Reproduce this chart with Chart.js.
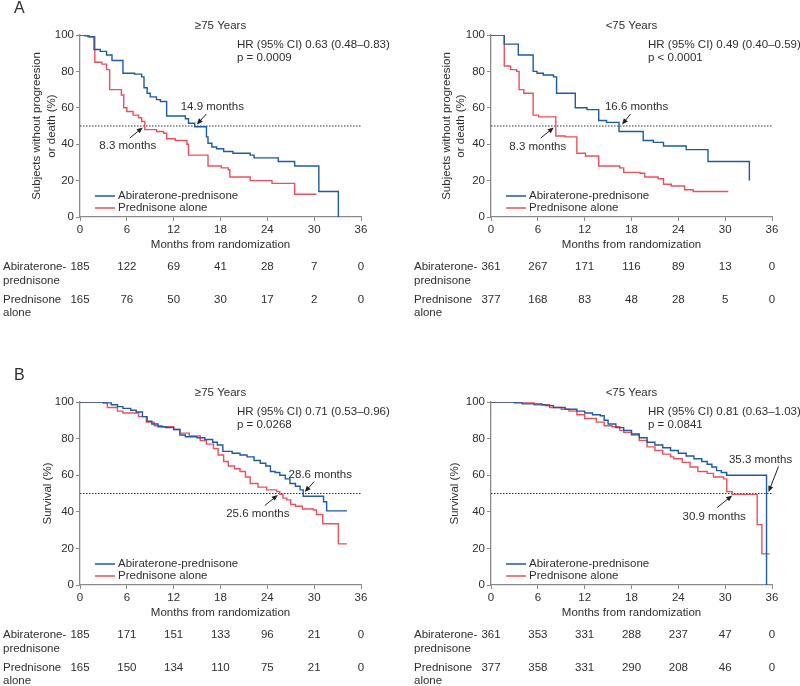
<!DOCTYPE html>
<html lang="en">
<head>
<meta charset="UTF-8">
<title>PFS and OS by age group</title>
<script src="https://cdn.jsdelivr.net/npm/chart.js"></script>
<style>
  body { margin: 0; background: #fff; }
  #wrap { position: relative; width: 800px; height: 686px; }
  canvas { position: absolute; }
</style>
</head>
<body>
<div id="wrap">
  <canvas id="pfsOld" width="400" height="340" style="left:0;top:0"></canvas>
  <canvas id="pfsYoung" width="400" height="340" style="left:400px;top:0"></canvas>
  <canvas id="osOld" width="400" height="346" style="left:0;top:340px"></canvas>
  <canvas id="osYoung" width="400" height="346" style="left:400px;top:340px"></canvas>
</div>
<script>
// months on the x axis / risk table columns
const monthTicks = [0, 6, 12, 18, 24, 30, 36];

// A, >=75 years (progression-free)
const pfsOldAbiT = [0, 0.6, 1.2, 1.8, 2.6, 3.4, 4.1, 5.5, 7.0, 7.9, 8.2, 8.6, 9.0, 9.8, 10.3, 11.1, 13.5, 13.9, 14.7, 16.2, 16.4, 16.9, 17.5, 18.4, 19.6, 21.8, 22.3, 25.4, 27.5, 30.6, 33.1];
const pfsOldAbiS = [100, 99.5, 99, 92, 91, 89, 86, 79, 78.5, 77, 71, 68, 66, 64.5, 63.5, 55.5, 54, 51.5, 49.6, 44, 40.5, 38.5, 37.5, 36, 35, 34, 32.5, 30.5, 28, 14, 0];
const pfsOldPredT = [0, 1.0, 1.9, 2.8, 3.4, 3.8, 5.3, 5.6, 6.0, 6.8, 7.5, 7.9, 8.3, 9.8, 10.7, 11.1, 12.2, 13.7, 13.9, 16.4, 18.1, 19.0, 19.2, 21.8, 24.6, 27.5, 30.3];
const pfsOldPredS = [100, 99, 85, 84, 81, 70, 67, 60, 58, 56, 54.5, 52.5, 48, 47, 46, 43, 42, 40, 34, 28, 27, 26, 22, 20, 18.5, 12.5, 12.5];
const pfsOldRiskAbi = [185, 122, 69, 41, 28, 7, 0];
const pfsOldRiskPred = [165, 76, 50, 30, 17, 2, 0];

// A, <75 years
const pfsYoungAbiT = [0, 1.7, 3.5, 5.4, 5.9, 6.7, 8.0, 8.4, 10.8, 12.3, 13.8, 14.8, 16.4, 19.5, 20.8, 22.1, 25.0, 27.8, 33.1];
const pfsYoungAbiS = [100, 95, 89, 80, 79, 78, 77, 68, 60, 59, 53, 52, 47, 42, 41, 39, 37, 30.5, 20];
const pfsYoungPredT = [0, 1.7, 2.5, 3.3, 3.6, 4.2, 5.4, 6.1, 8.3, 9.5, 11.0, 12.1, 13.8, 16.5, 17.0, 19.1, 19.7, 21.4, 22.1, 23.1, 24.8, 25.9, 30.4];
const pfsYoungPredS = [100, 83, 81, 80, 70, 68, 56, 55, 44.5, 44, 35, 33.5, 28, 27, 24.5, 24, 22, 21, 18, 17, 15, 14, 14];
const pfsYoungRiskAbi = [361, 267, 171, 116, 89, 13, 0];
const pfsYoungRiskPred = [377, 168, 83, 48, 28, 5, 0];

// B, >=75 years (survival)
const osOldAbiT = [0, 3.0, 4.0, 4.8, 5.5, 6.5, 7.2, 8.0, 8.6, 9.2, 10.0, 11.0, 12.0, 12.8, 13.5, 15.0, 16.0, 17.0, 17.6, 18.3, 19.5, 20.5, 21.4, 22.3, 23.1, 23.8, 24.4, 25.0, 25.6, 26.3, 26.9, 27.6, 28.2, 28.6, 31.2, 31.6, 34.2];
const osOldAbiS = [100, 99.5, 98.5, 97.5, 96.5, 95.5, 94.5, 92, 89.5, 88, 86.5, 86, 85, 82, 81, 80.5, 79.5, 78, 76.5, 73, 72, 71, 70, 68, 66.5, 65, 62, 61.5, 60, 58, 55.5, 54, 52, 48.5, 45.5, 40.5, 40.5];
const osOldPredT = [0, 3.0, 3.5, 4.8, 5.5, 7.5, 8.5, 9.5, 10.5, 12.0, 12.8, 14.0, 15.4, 16.2, 17.1, 17.7, 18.4, 19.0, 19.8, 20.5, 21.2, 21.8, 22.8, 23.9, 25.2, 25.6, 26.0, 26.5, 27.0, 27.6, 28.5, 29.9, 30.3, 31.1, 33.1, 34.2];
const osOldPredS = [100, 99.5, 97, 95, 94, 92, 89, 87, 86.5, 85, 83, 81.5, 79, 77, 74.5, 71, 67.5, 65, 63.5, 62, 59, 55.5, 53.5, 52, 51, 49.5, 47.5, 46.5, 44, 43, 41.5, 41, 38.5, 33.5, 22.5, 22.5];
const osOldRiskAbi = [185, 171, 151, 133, 96, 21, 0];
const osOldRiskPred = [165, 150, 134, 110, 75, 21, 0];

// B, <75 years
const osYoungAbiT = [0, 3.0, 4.0, 6.5, 7.0, 8.0, 9.5, 11.0, 12.0, 13.0, 14.0, 14.5, 15.0, 16.0, 17.0, 18.0, 19.0, 20.0, 21.0, 22.0, 23.0, 24.0, 25.0, 26.0, 27.0, 27.7, 28.3, 28.9, 29.5, 30.2, 35.3];
const osYoungAbiS = [100, 99.5, 99, 98.5, 98, 97, 96, 95, 94, 93, 92.5, 90, 88, 86, 84.5, 82.5, 80.5, 78, 76.5, 75, 73.5, 72, 70.5, 69, 67.5, 66, 64.5, 62.5, 61.5, 60, 0];
const osYoungPredT = [0, 3.0, 4.0, 5.5, 7.5, 9.0, 10.0, 11.0, 12.0, 13.5, 14.5, 15.5, 16.5, 17.0, 18.0, 19.0, 20.0, 21.0, 22.0, 23.0, 23.4, 24.5, 25.5, 26.5, 27.7, 28.5, 29.8, 30.2, 30.9, 34.1, 34.7, 35.7];
const osYoungPredS = [100, 99.8, 99.5, 98.5, 97, 96, 95, 93, 91, 89, 87, 86.5, 84.5, 83.5, 82, 79, 75.5, 73.5, 71.5, 70, 69, 67, 64.5, 62, 61, 59, 58, 51, 49.5, 33, 17, 17];
const osYoungRiskAbi = [361, 353, 331, 288, 237, 47, 0];
const osYoungRiskPred = [377, 358, 331, 290, 208, 46, 0];

const BLUE = '#1e5aa5';
const RED = '#ef4f5b';
const TEXT = '#2f2f2f';
const AXIS = '#8a8a8a';
const FAMILY = '"Liberation Sans", Arial, Helvetica, sans-serif';

function pts(t, s) {
  return t.map((x, i) => ({ x: x, y: s[i] }));
}

function arrow(ctx, x0, y0, x1, y1) {
  const ang = Math.atan2(y1 - y0, x1 - x0);
  ctx.beginPath();
  ctx.moveTo(x0, y0);
  ctx.lineTo(x1 - 4 * Math.cos(ang), y1 - 4 * Math.sin(ang));
  ctx.stroke();
  ctx.beginPath();
  ctx.moveTo(x1, y1);
  ctx.lineTo(x1 - 6 * Math.cos(ang) + 2.6 * Math.sin(ang), y1 - 6 * Math.sin(ang) - 2.6 * Math.cos(ang));
  ctx.lineTo(x1 - 6 * Math.cos(ang) - 2.6 * Math.sin(ang), y1 - 6 * Math.sin(ang) + 2.6 * Math.cos(ang));
  ctx.closePath();
  ctx.fill();
}

// titles, legend, arrows and the numbers-at-risk table
function drawDeco(chart, p) {
  const ctx = chart.ctx;
  const a = chart.chartArea;
  const xs = chart.scales.x;
  const ys = chart.scales.y;
  ctx.save();
  ctx.fillStyle = TEXT;
  ctx.textBaseline = 'middle';

  if (p.letter) {
    ctx.font = '16px ' + FAMILY;
    ctx.textAlign = 'left';
    ctx.fillText(p.letter, 14, a.top - 26);
  }

  ctx.font = '11.5px ' + FAMILY;
  ctx.textAlign = 'center';
  ctx.fillText(p.group, (a.left + a.right) / 2, a.top - 9);
  ctx.fillText('Months from randomization', (a.left + a.right) / 2, a.bottom + 28);
  ctx.textAlign = 'left';
  ctx.fillText(p.hr, a.left + 157, a.top + 10);
  ctx.fillText(p.pval, a.left + 157, a.top + 23);

  // y axis title
  ctx.save();
  ctx.translate(a.left, (a.top + a.bottom) / 2);
  ctx.rotate(-Math.PI / 2);
  ctx.textAlign = 'center';
  p.yTitle.forEach((line, i) => ctx.fillText(line, 0, p.yTitleX[i]));
  ctx.restore();

  // legend
  [[BLUE, 'Abiraterone-prednisone', -21], [RED, 'Prednisone alone', -9]].forEach(([col, label, dy]) => {
    ctx.strokeStyle = col;
    ctx.lineWidth = 1.5;
    ctx.beginPath();
    ctx.moveTo(a.left + 15, a.bottom + dy);
    ctx.lineTo(a.left + 35, a.bottom + dy);
    ctx.stroke();
    ctx.fillText(label, a.left + 38, a.bottom + dy);
  });

  // median annotations
  ctx.strokeStyle = '#222';
  ctx.fillStyle = '#222';
  ctx.lineWidth = 1;
  p.notes.forEach(n => {
    const tx = xs.getPixelForValue(n.m);
    const ty = ys.getPixelForValue(50);
    arrow(ctx, tx + n.a0[0], ty + n.a0[1], tx + n.a1[0], ty + n.a1[1]);
    ctx.fillStyle = TEXT;
    ctx.textAlign = 'center';
    ctx.fillText(n.m.toFixed(1) + ' months', tx + n.t[0], ty + n.t[1]);
    ctx.fillStyle = '#222';
  });

  // numbers at risk
  ctx.fillStyle = TEXT;
  ctx.textAlign = 'left';
  const lx = a.left - 77;
  [['Abiraterone-', 50], ['prednisone', 64], ['Prednisone', 83], ['alone', 96]].forEach(([t, dy]) => {
    ctx.fillText(t, lx, a.bottom + dy);
  });
  ctx.textAlign = 'center';
  monthTicks.forEach((m, i) => {
    const x = xs.getPixelForValue(m);
    ctx.fillText(String(p.riskAbi[i]), x, a.bottom + 50);
    ctx.fillText(String(p.riskPred[i]), x, a.bottom + 83);
  });
  ctx.restore();
}

function makePanel(id, p) {
  const canvas = document.getElementById(id);
  const W = canvas.width;
  const H = canvas.height;
  const tickFont = { family: FAMILY, size: 11.5 };
  return new Chart(canvas, {
    type: 'line',
    data: {
      datasets: [
        { data: pts(p.abiT, p.abiS), borderColor: BLUE },
        { data: pts(p.predT, p.predS), borderColor: RED },
        { data: [{ x: 0, y: 50 }, { x: 36, y: 50 }], borderColor: '#333', borderWidth: 1, borderDash: [1.5, 1.5], stepped: false }
      ]
    },
    options: {
      responsive: false,
      animation: false,
      events: [],
      layout: { padding: { left: 0, top: p.top, right: W - p.right, bottom: H - p.bottom - 20 } },
      plugins: { legend: { display: false }, tooltip: { enabled: false } },
      datasets: { line: { pointRadius: 0, fill: false, stepped: 'before', borderWidth: 1.4 } },
      scales: {
        x: {
          type: 'linear', min: 0, max: 36,
          ticks: { stepSize: 6, color: TEXT, font: tickFont, padding: 2, maxRotation: 0 },
          grid: { drawOnChartArea: false, tickLength: 4, color: AXIS },
          border: { color: AXIS, width: 1.3 },
          afterFit: s => { s.height = 20; }
        },
        y: {
          min: 0, max: 100,
          ticks: { stepSize: 20, color: TEXT, font: tickFont, padding: 2 },
          grid: { drawOnChartArea: false, tickLength: 4, color: AXIS },
          border: { color: AXIS, width: 1.3 },
          afterFit: s => { s.width = p.left; }
        }
      }
    },
    plugins: [{ id: 'deco', afterDraw: c => drawDeco(c, p) }]
  });
}

const pfsTitle = ['Subjects without progreesion', 'or death (%)'];

makePanel('pfsOld', {
  left: 80, right: 361, top: 35, bottom: 217, letter: 'A',
  group: '\u226575 Years', hr: 'HR (95% CI) 0.63 (0.48\u20130.83)', pval: 'p = 0.0009',
  yTitle: pfsTitle, yTitleX: [-43, -28],
  abiT: pfsOldAbiT, abiS: pfsOldAbiS, predT: pfsOldPredT, predS: pfsOldPredS,
  riskAbi: pfsOldRiskAbi, riskPred: pfsOldRiskPred,
  notes: [
    { m: 14.9, t: [16, -19], a0: [10, -12], a1: [0.5, -1.5] },
    { m: 8.3, t: [-17, 20], a0: [-15, 12], a1: [-2, 1.5] }
  ]
});

makePanel('pfsYoung', {
  left: 91, right: 372, top: 35, bottom: 217, letter: '',
  group: '<75 Years', hr: 'HR (95% CI) 0.49 (0.40\u20130.59)', pval: 'p < 0.0001',
  yTitle: pfsTitle, yTitleX: [-44, -30],
  abiT: pfsYoungAbiT, abiS: pfsYoungAbiS, predT: pfsYoungPredT, predS: pfsYoungPredS,
  riskAbi: pfsYoungRiskAbi, riskPred: pfsYoungRiskPred,
  notes: [
    { m: 16.6, t: [16, -19], a0: [10, -12], a1: [1.5, -1.5] },
    { m: 8.3, t: [-18, 21], a0: [-15, 12], a1: [-2, 1.5] }
  ]
});

makePanel('osOld', {
  left: 80, right: 361, top: 62, bottom: 245, letter: 'B',
  group: '\u226575 Years', hr: 'HR (95% CI) 0.71 (0.53\u20130.96)', pval: 'p = 0.0268',
  yTitle: ['Survival (%)'], yTitleX: [-32],
  abiT: osOldAbiT, abiS: osOldAbiS, predT: osOldPredT, predS: osOldPredS,
  riskAbi: osOldRiskAbi, riskPred: osOldRiskPred,
  notes: [
    { m: 28.6, t: [17, -19], a0: [11, -12], a1: [1.5, -1.5] },
    { m: 25.6, t: [-22, 20], a0: [-15, 12], a1: [-2, 1.5] }
  ]
});

makePanel('osYoung', {
  left: 91, right: 372, top: 62, bottom: 245, letter: '',
  group: '<75 Years', hr: 'HR (95% CI) 0.81 (0.63\u20131.03)', pval: 'p = 0.0841',
  yTitle: ['Survival (%)'], yTitleX: [-36],
  abiT: osYoungAbiT, abiS: osYoungAbiS, predT: osYoungPredT, predS: osYoungPredS,
  riskAbi: osYoungRiskAbi, riskPred: osYoungRiskPred,
  notes: [
    { m: 35.3, t: [-6, -34], a0: [12, -27], a1: [2, -1.5] },
    { m: 30.9, t: [-18, 23], a0: [-15, 14], a1: [0, 2] }
  ]
});
</script>
</body>
</html>
